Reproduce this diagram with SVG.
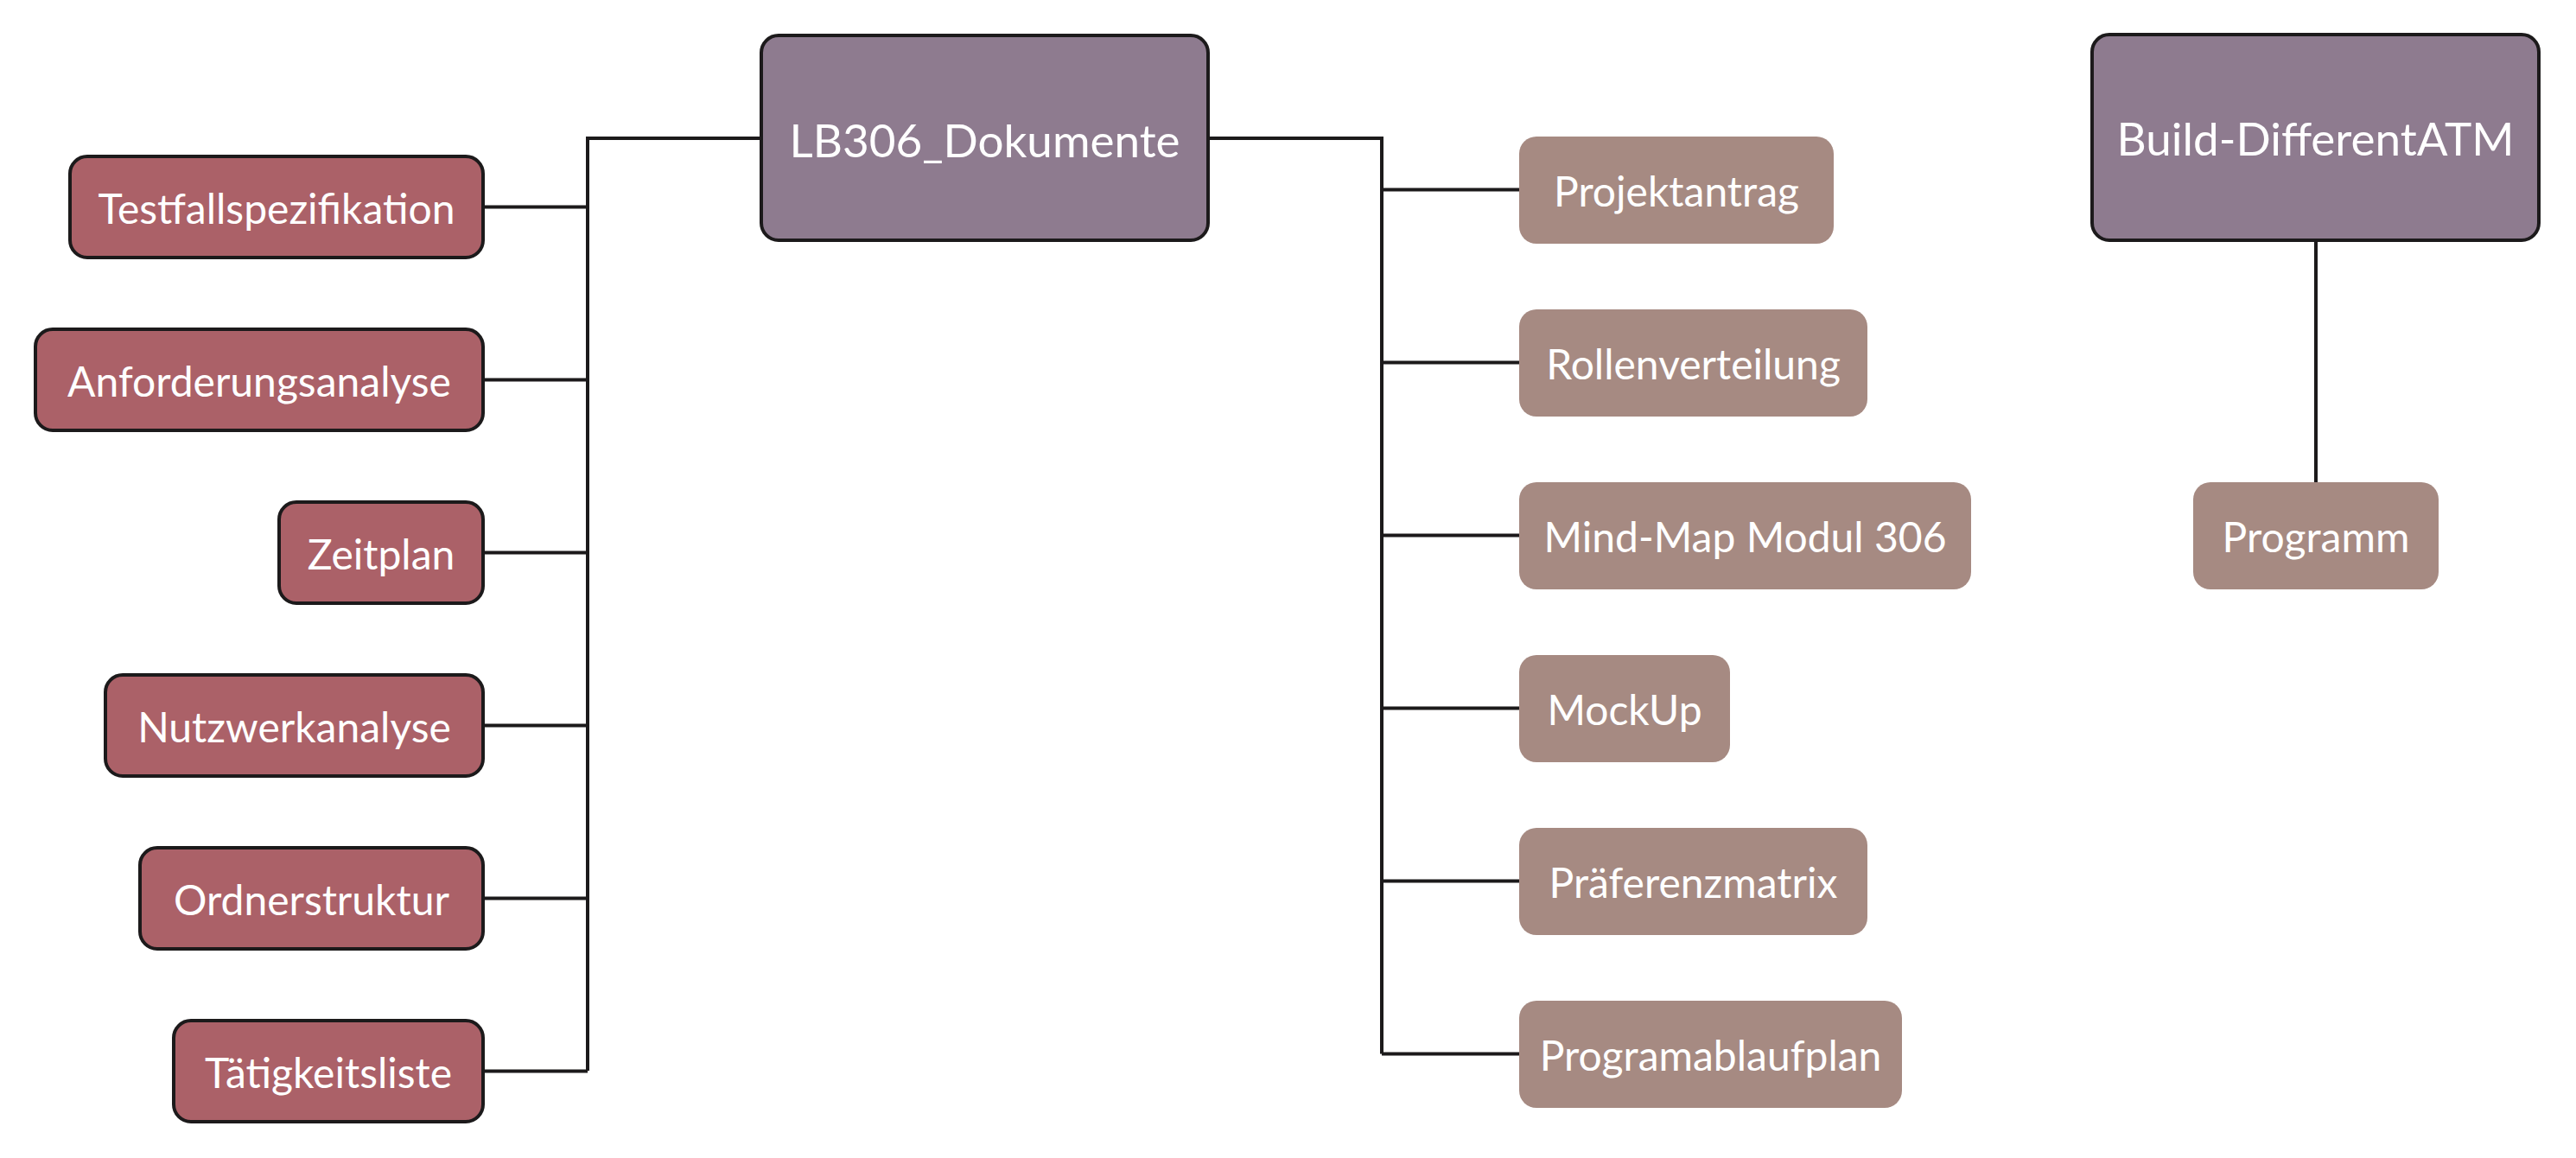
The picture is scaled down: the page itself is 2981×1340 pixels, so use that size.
<svg xmlns="http://www.w3.org/2000/svg" width="2981" height="1340" viewBox="0 0 2981 1340">
<style>
.bg{fill:#ffffff}
.main rect{fill:#8e7b8f;stroke:#1c1a1b;stroke-width:4}
.left rect{fill:#ab6168;stroke:#1c1a1b;stroke-width:4}
.right rect{fill:#a68a82}
text{font-family:Lato,"Liberation Sans",sans-serif;fill:#ffffff;text-anchor:middle}
.main text{font-size:53px}
.left text,.right text{font-size:48px}
#connectors path{fill:none;stroke:#1c1a1b;stroke-width:4}
</style>
<rect class="bg" x="0" y="0" width="2981" height="1340"/>
<g id="connectors">
<path d="M880 160H680V1239M561 239.5H680M561 439.5H680M561 639.5H680M561 839.5H680M561 1039.5H680M561 1239.5H680"/>
<path d="M1400 160H1599V1219.5M1599 219.5H1758M1599 419.5H1758M1599 619.5H1758M1599 819.5H1758M1599 1019.5H1758M1599 1219.5H1758"/>
<path d="M2680 279V560"/>
</g>
<g id="lb306" class="main"><rect x="881" y="41" width="517" height="237" rx="20"/><text x="1139.5" y="182">LB306_Dokumente</text></g>
<g id="build" class="main"><rect x="2421" y="40" width="517" height="238" rx="20"/><text x="2679.5" y="180">Build-DifferentATM</text></g>
<g id="testfall" class="left"><rect x="81" y="181" width="478" height="117" rx="20"/><text x="320" y="259">Testfallspezifikation</text></g>
<g id="anforderung" class="left"><rect x="41" y="381" width="518" height="117" rx="20"/><text x="300" y="459">Anforderungsanalyse</text></g>
<g id="zeitplan" class="left"><rect x="323" y="581" width="236" height="117" rx="20"/><text x="441" y="659">Zeitplan</text></g>
<g id="nutzwert" class="left"><rect x="122" y="781" width="437" height="117" rx="20"/><text x="340.5" y="859">Nutzwerkanalyse</text></g>
<g id="ordner" class="left"><rect x="162" y="981" width="397" height="117" rx="20"/><text x="360.5" y="1059">Ordnerstruktur</text></g>
<g id="taetigkeit" class="left"><rect x="201" y="1181" width="358" height="117" rx="20"/><text x="380" y="1259">Tätigkeitsliste</text></g>
<g id="projektantrag" class="right"><rect x="1758" y="158" width="364" height="124" rx="20"/><text x="1940" y="239">Projektantrag</text></g>
<g id="rollen" class="right"><rect x="1758" y="358" width="403" height="124" rx="20"/><text x="1959.5" y="439">Rollenverteilung</text></g>
<g id="mindmap" class="right"><rect x="1758" y="558" width="523" height="124" rx="20"/><text x="2019.5" y="639">Mind-Map Modul 306</text></g>
<g id="mockup" class="right"><rect x="1758" y="758" width="244" height="124" rx="20"/><text x="1880" y="839">MockUp</text></g>
<g id="praeferenz" class="right"><rect x="1758" y="958" width="403" height="124" rx="20"/><text x="1959.5" y="1039">Präferenzmatrix</text></g>
<g id="programablauf" class="right"><rect x="1758" y="1158" width="443" height="124" rx="20"/><text x="1979.5" y="1239">Programablaufplan</text></g>
<g id="programm" class="right"><rect x="2538" y="558" width="284" height="124" rx="20"/><text x="2680" y="639">Programm</text></g>
</svg>
